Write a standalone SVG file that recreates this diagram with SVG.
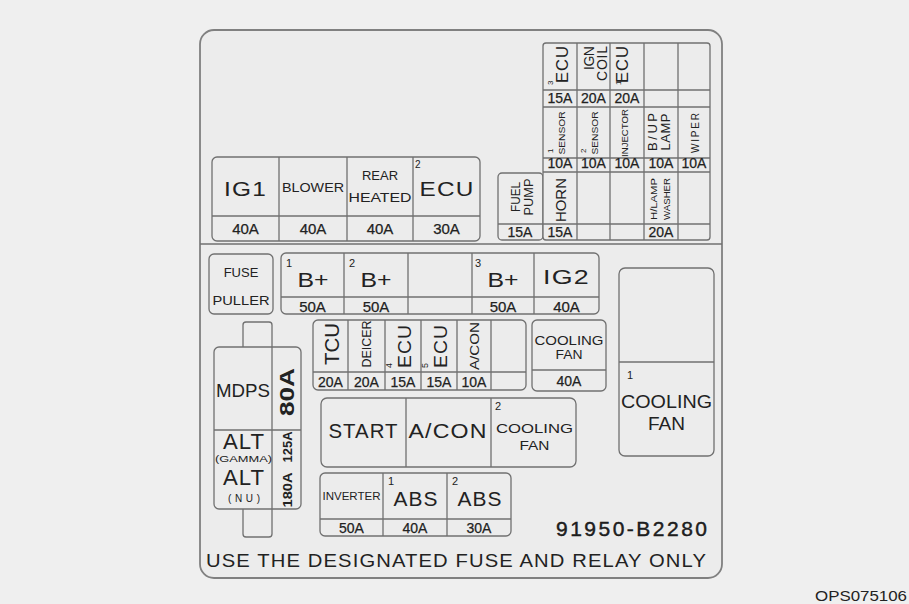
<svg xmlns="http://www.w3.org/2000/svg" width="909" height="604" viewBox="0 0 909 604">
<style>
.bx{fill:#ececec;stroke:#707070;stroke-width:1.3}
.ln{stroke:#707070;stroke-width:1.3;fill:none}
text{font-family:"Liberation Sans",Arial,sans-serif;fill:#222}
.m{text-anchor:middle}
.e{text-anchor:end}
.a{font-size:14px;text-anchor:middle;stroke:#222;stroke-width:0.25}
.a15{font-size:15px;text-anchor:middle;stroke:#222;stroke-width:0.25}
.big{font-size:20px;text-anchor:middle}
.s{font-size:10px}
.b{font-weight:bold}
</style>
<rect x="0" y="0" width="909" height="604" fill="#efefef"/>
<g id="frame">
<rect x="200" y="30" width="522" height="548" rx="14" fill="#ececec" stroke="#808080" stroke-width="1.8"/>
<line x1="200" y1="244" x2="722" y2="244" class="ln"/>
</g>
<g id="top-row">
<rect x="212" y="157" width="268" height="84" rx="5" class="bx"/>
<path d="M212,216H480M279,157V241M347,157V241M413,157V241" class="ln"/>
<text x="245.5" y="196" class="big" letter-spacing="1" textLength="43" lengthAdjust="spacingAndGlyphs">IG1</text>
<text x="313" y="192" class="m" font-size="13" textLength="62" lengthAdjust="spacingAndGlyphs">BLOWER</text>
<text x="380" y="180" class="m" font-size="13">REAR</text>
<text x="380" y="202" class="m" font-size="13" textLength="63" lengthAdjust="spacingAndGlyphs">HEATED</text>
<text x="415" y="168" class="s">2</text>
<text x="447" y="196" class="big" letter-spacing="1" textLength="55" lengthAdjust="spacingAndGlyphs">ECU</text>
<text x="245.5" y="234" class="a15">40A</text>
<text x="313" y="234" class="a15">40A</text>
<text x="380" y="234" class="a15">40A</text>
<text x="446.5" y="234" class="a15">30A</text>
</g>
<g id="fuel-pump">
<rect x="498" y="173" width="45" height="67" rx="4" class="bx"/>
<path d="M498,224H543" class="ln"/>
<text transform="translate(520,197) rotate(-90)" class="m" font-size="13" textLength="30" lengthAdjust="spacingAndGlyphs">FUEL</text>
<text transform="translate(533,197) rotate(-90)" class="m" font-size="13" textLength="37" lengthAdjust="spacingAndGlyphs">PUMP</text>
<text x="520" y="237" class="a">15A</text>
</g>
<g id="mini-fuse-grid">
<rect x="543" y="43" width="167" height="197" rx="3" class="bx"/>
<path d="M543,90H710M543,107H710M543,158H710M543,172H710M543,224H710M577,43V240M610,43V240M644,43V240M678,43V240" class="ln"/>
<text transform="translate(568,64) rotate(-90)" class="m" font-size="16" letter-spacing="1" textLength="38" lengthAdjust="spacingAndGlyphs">ECU</text>
<text transform="translate(553,85) rotate(-90)" font-size="8">3</text>
<text transform="translate(594,46) rotate(-90)" class="e" font-size="14" textLength="24" lengthAdjust="spacing">IGN</text>
<text transform="translate(607,46) rotate(-90)" class="e" font-size="14" textLength="35" lengthAdjust="spacing">COIL</text>
<text transform="translate(621,85) rotate(-90)" font-size="8">1</text>
<text transform="translate(628,64) rotate(-90)" class="m" font-size="16" letter-spacing="1" textLength="38" lengthAdjust="spacingAndGlyphs">ECU</text>
<text x="560" y="103" class="a">15A</text>
<text x="593.5" y="103" class="a">20A</text>
<text x="627" y="103" class="a">20A</text>
<text transform="translate(565,133) rotate(-90)" class="m" font-size="9.5" textLength="43" lengthAdjust="spacingAndGlyphs">SENSOR</text>
<text transform="translate(553,153) rotate(-90)" font-size="8">1</text>
<text transform="translate(598,133) rotate(-90)" class="m" font-size="9.5" textLength="43" lengthAdjust="spacingAndGlyphs">SENSOR</text>
<text transform="translate(586,153) rotate(-90)" font-size="8">2</text>
<text transform="translate(628,133) rotate(-90)" class="m" font-size="9.5" textLength="48" lengthAdjust="spacingAndGlyphs">INJECTOR</text>
<text transform="translate(657,132) rotate(-90)" class="m" font-size="13" textLength="38" lengthAdjust="spacing">B/UP</text>
<text transform="translate(670,132) rotate(-90)" class="m" font-size="13" textLength="37" lengthAdjust="spacing">LAMP</text>
<text transform="translate(699,133) rotate(-90)" class="m" font-size="10" textLength="40" lengthAdjust="spacing">WIPER</text>
<text x="560" y="168" class="a">10A</text>
<text x="593.5" y="168" class="a">10A</text>
<text x="627" y="168" class="a">10A</text>
<text x="661" y="168" class="a">10A</text>
<text x="694" y="168" class="a">10A</text>
<text transform="translate(566,200) rotate(-90)" class="m" font-size="15" textLength="44" lengthAdjust="spacing">HORN</text>
<text transform="translate(657,199) rotate(-90)" class="m" font-size="9" textLength="42" lengthAdjust="spacingAndGlyphs">H/LAMP</text>
<text transform="translate(670,199) rotate(-90)" class="m" font-size="9" textLength="42" lengthAdjust="spacingAndGlyphs">WASHER</text>
<text x="560" y="237" class="a">15A</text>
<text x="661" y="237" class="a">20A</text>
</g>
<g id="fuse-puller">
<rect x="209" y="254" width="64" height="60" rx="5" class="bx"/>
<text x="241" y="277" class="m" font-size="13">FUSE</text>
<text x="241" y="305" class="m" font-size="13" textLength="57" lengthAdjust="spacingAndGlyphs">PULLER</text>
</g>
<g id="bplus-row">
<rect x="281" y="253" width="318" height="61" rx="5" class="bx"/>
<path d="M281,297H599M344,253V314M408,253V314M472,253V314M534,253V314" class="ln"/>
<text x="286" y="267" font-size="11">1</text>
<text x="313" y="287" class="m" font-size="21" textLength="31" lengthAdjust="spacingAndGlyphs">B+</text>
<text x="349" y="267" font-size="11">2</text>
<text x="376" y="287" class="m" font-size="21" textLength="31" lengthAdjust="spacingAndGlyphs">B+</text>
<text x="475" y="267" font-size="11">3</text>
<text x="503" y="287" class="m" font-size="21" textLength="31" lengthAdjust="spacingAndGlyphs">B+</text>
<text x="566.5" y="284" class="m" font-size="21" letter-spacing="1" textLength="47" lengthAdjust="spacingAndGlyphs">IG2</text>
<text x="312.5" y="312" class="a15">50A</text>
<text x="376" y="312" class="a15">50A</text>
<text x="503" y="312" class="a15">50A</text>
<text x="566.5" y="312" class="a15">40A</text>
</g>
<g id="cooling-fan-relay-1">
<rect x="619" y="268" width="95" height="188" rx="6" class="bx"/>
<path d="M619,362H714" class="ln"/>
<text x="627" y="379" font-size="11">1</text>
<text x="666.5" y="408" class="m" font-size="18" textLength="91" lengthAdjust="spacingAndGlyphs">COOLING</text>
<text x="666.5" y="430" class="m" font-size="18" textLength="37" lengthAdjust="spacingAndGlyphs">FAN</text>
</g>
<g id="cooling-fan-fuse">
<rect x="532" y="320" width="74" height="71" rx="5" class="bx"/>
<path d="M532,370H606" class="ln"/>
<text x="569" y="345" class="m" font-size="12" textLength="69" lengthAdjust="spacingAndGlyphs">COOLING</text>
<text x="569" y="359" class="m" font-size="12" textLength="27" lengthAdjust="spacingAndGlyphs">FAN</text>
<text x="569" y="386" class="a">40A</text>
</g>
<g id="mid-fuse-row">
<rect x="313" y="320" width="213" height="70" rx="5" class="bx"/>
<path d="M313,372H526M348,320V390M385,320V390M421,320V390M457,320V390M491,320V390" class="ln"/>
<text transform="translate(339,344) rotate(-90)" class="m" font-size="20" textLength="42" lengthAdjust="spacingAndGlyphs">TCU</text>
<text transform="translate(371,344) rotate(-90)" class="m" font-size="12.5" textLength="47" lengthAdjust="spacingAndGlyphs">DEICER</text>
<text transform="translate(392,368) rotate(-90)" font-size="9">4</text>
<text transform="translate(411,346) rotate(-90)" class="m" font-size="18" letter-spacing="1" textLength="44" lengthAdjust="spacingAndGlyphs">ECU</text>
<text transform="translate(428,368) rotate(-90)" font-size="9">5</text>
<text transform="translate(447,346) rotate(-90)" class="m" font-size="18" letter-spacing="1" textLength="44" lengthAdjust="spacingAndGlyphs">ECU</text>
<text transform="translate(479,346) rotate(-90)" class="m" font-size="13" textLength="48" lengthAdjust="spacingAndGlyphs">A/CON</text>
<text x="330.5" y="387" class="a">20A</text>
<text x="366.5" y="387" class="a">20A</text>
<text x="403" y="387" class="a">15A</text>
<text x="439" y="387" class="a">15A</text>
<text x="474" y="387" class="a">10A</text>
</g>
<g id="mdps-alt">
<path d="M243,347V325Q243,322 246,322H269Q272,322 272,325V347" class="bx"/>
<path d="M243,509V534Q243,537 246,537H269Q272,537 272,534V509" class="bx"/>
<rect x="214" y="347" width="87" height="162" rx="5" class="bx"/>
<path d="M272,347V509M214,430H301" class="ln"/>
<text x="243" y="397" class="m" font-size="19" textLength="54" lengthAdjust="spacingAndGlyphs">MDPS</text>
<text transform="translate(294,392) rotate(-90)" class="m b" font-size="21" textLength="48" lengthAdjust="spacingAndGlyphs">80A</text>
<text x="244" y="449" class="m" font-size="22" letter-spacing="1" textLength="42" lengthAdjust="spacingAndGlyphs">ALT</text>
<text x="243.5" y="462" class="m" font-size="9" textLength="57" lengthAdjust="spacingAndGlyphs">(GAMMA)</text>
<text x="244" y="485" class="m" font-size="22" letter-spacing="1" textLength="42" lengthAdjust="spacingAndGlyphs">ALT</text>
<text x="244" y="502" class="m" font-size="10" textLength="32" lengthAdjust="spacing">(NU)</text>
<text transform="translate(292,447) rotate(-90)" class="m b" font-size="13" textLength="31" lengthAdjust="spacingAndGlyphs">125A</text>
<text transform="translate(292,490) rotate(-90)" class="m b" font-size="13" textLength="35" lengthAdjust="spacingAndGlyphs">180A</text>
</g>
<g id="relay-row">
<rect x="321" y="398" width="255" height="69" rx="6" class="bx"/>
<path d="M406,398V467M491,398V467" class="ln"/>
<text x="363.5" y="438" class="big" letter-spacing="1" textLength="70" lengthAdjust="spacingAndGlyphs">START</text>
<text x="448" y="438" class="big" letter-spacing="1" textLength="79" lengthAdjust="spacingAndGlyphs">A/CON</text>
<text x="495" y="410" font-size="11">2</text>
<text x="534.5" y="433" class="m" font-size="13" textLength="77" lengthAdjust="spacingAndGlyphs">COOLING</text>
<text x="534.5" y="450" class="m" font-size="13" textLength="30" lengthAdjust="spacingAndGlyphs">FAN</text>
</g>
<g id="abs-row">
<rect x="320" y="473" width="191" height="63" rx="5" class="bx"/>
<path d="M320,519H511M383,473V536M447,473V536" class="ln"/>
<text x="351.5" y="500" class="m" font-size="11" textLength="58" lengthAdjust="spacingAndGlyphs">INVERTER</text>
<text x="388" y="485" font-size="11">1</text>
<text x="416" y="506" class="big" letter-spacing="1" textLength="45" lengthAdjust="spacingAndGlyphs">ABS</text>
<text x="452" y="485" font-size="11">2</text>
<text x="480" y="506" class="big" letter-spacing="1" textLength="45" lengthAdjust="spacingAndGlyphs">ABS</text>
<text x="351.5" y="533" class="a">50A</text>
<text x="415" y="533" class="a">40A</text>
<text x="479" y="533" class="a">30A</text>
</g>
<g id="labels">
<text x="556" y="536" font-size="21" fill="#111" stroke="#111" stroke-width="0.4" textLength="151" lengthAdjust="spacing">91950-B2280</text>
<text x="206" y="567" font-size="18" letter-spacing="1" textLength="501" lengthAdjust="spacingAndGlyphs">USE THE DESIGNATED FUSE AND RELAY ONLY</text>
<text x="815" y="601" font-size="15" fill="#111" textLength="92" lengthAdjust="spacingAndGlyphs">OPS075106</text>
</g>
<g id="connectors"></g>
</svg>
